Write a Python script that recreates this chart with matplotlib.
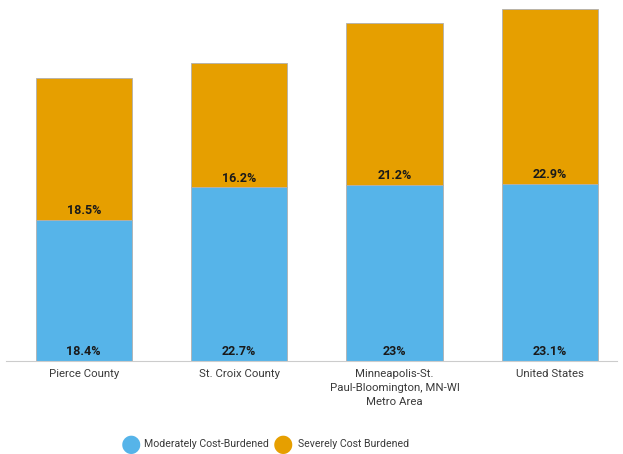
import matplotlib.pyplot as plt
import numpy as np

# data
categories = ['Pierce County', 'St. Croix County',
              'Minneapolis-St.\nPaul-Bloomington, MN-WI\nMetro Area', 'United States']
moderate = [18.4, 22.7, 23.0, 23.1]
severe = [18.5, 16.2, 21.2, 22.9]
moderate_labels = ['18.4%', '22.7%', '23%', '23.1%']
severe_labels = ['18.5%', '16.2%', '21.2%', '22.9%']

plt.rcParams['font.family'] = ['Roboto', 'DejaVu Sans']

fig = plt.figure(figsize=(6.23, 4.54), dpi=100)
W, H = 623, 454
ax = fig.add_axes([6 / W, (H - 361) / H, (617 - 6) / W, (361 - 5) / H])

blue = '#56B4E9'
orange = '#E69F00'
x = np.arange(len(categories))
width = 0.62

ax.bar(x, moderate, width, color=blue, edgecolor='#b0b0b0', linewidth=0.6, zorder=2)
ax.bar(x, severe, width, bottom=moderate, color=orange, edgecolor='#b0b0b0', linewidth=0.6, zorder=2)

for i in range(len(categories)):
    ax.text(x[i], 0.35, moderate_labels[i], ha='center', va='bottom',
            fontsize=9, fontweight='bold', color='#1a1a1a', zorder=3)
    ax.text(x[i], moderate[i] + 0.35, severe_labels[i], ha='center', va='bottom',
            fontsize=9, fontweight='bold', color='#1a1a1a', zorder=3)

ax.set_xlim(-0.5, 3.43)
ax.set_ylim(0, 46.5)
ax.set_xticks(x)
ax.set_xticklabels(categories, fontsize=8.2, color='#3a3a3a', linespacing=1.5)
ax.tick_params(axis='x', length=0, pad=6)
ax.set_yticks([])
for s in ['top', 'right', 'left']:
    ax.spines[s].set_visible(False)
ax.spines['bottom'].set_color('#cccccc')
ax.spines['bottom'].set_linewidth(0.8)

# legend
ly = 1 - 444 / H
fig.text(131 / W, ly, '\u25CF', color=blue, fontsize=17, ha='center', va='center')
fig.text(144 / W, ly, 'Moderately Cost-Burdened', fontsize=7.6, color='#3a3a3a', va='center')
fig.text(283 / W, ly, '\u25CF', color=orange, fontsize=17, ha='center', va='center')
fig.text(298 / W, ly, 'Severely Cost Burdened', fontsize=7.6, color='#3a3a3a', va='center')

fig.savefig('out.png', dpi=100)
